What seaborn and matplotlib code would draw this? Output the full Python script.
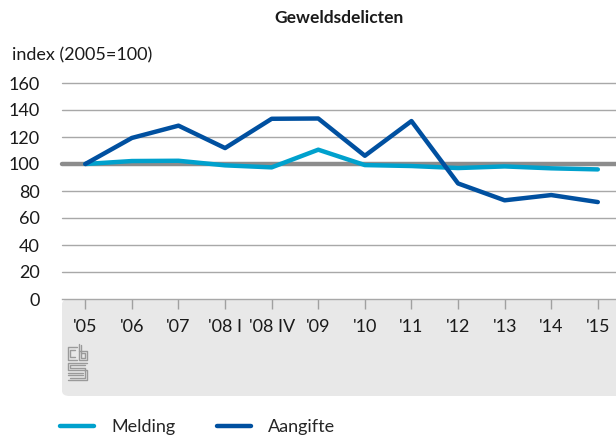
import matplotlib
matplotlib.use("Agg")
import matplotlib.pyplot as plt
import seaborn as sns
import pandas as pd
from matplotlib.patches import FancyBboxPatch
from matplotlib.lines import Line2D

periods = ["'05", "'06", "'07", "'08 I", "'08 IV", "'09", "'10", "'11", "'12", "'13", "'14", "'15"]
melding = [100, 102.2, 102.4, 99.0, 97.5, 110.6, 99.2, 98.5, 97.0, 98.2, 96.8, 96.0]
aangifte = [100, 119.3, 128.4, 111.8, 133.5, 133.7, 106.1, 131.8, 85.6, 73.1, 77.0, 71.8]
yticks = [0, 20, 40, 60, 80, 100, 120, 140, 160]

LIGHT = "#00a1cd"
DARK = "#0050a0"

sns.set_theme(style="white")
plt.rcParams['font.family'] = ['Lato', 'DejaVu Sans']

W, H = 616, 437
fig = plt.figure(figsize=(W / 100, H / 100), dpi=100)

# gray band behind x tick labels
band = FancyBboxPatch((62 / W, 1 - 396 / H), (W - 62 + 20) / W, (396 - 299) / H,
                      boxstyle="round,pad=0,rounding_size=0.012",
                      transform=fig.transFigure, facecolor="#e8e8e8",
                      edgecolor="none", zorder=0)
fig.patches.append(band)

ax = fig.add_axes([62 / W, 1 - 299 / H, (W - 62) / W, (299 - 83) / H])
ax.set_zorder(2)
ax.set_facecolor("white")

df = pd.DataFrame({
    "pos": list(range(len(periods))) * 2,
    "value": melding + aangifte,
    "serie": ["Melding"] * len(periods) + ["Aangifte"] * len(periods),
})

for y in yticks[1:]:
    ax.axhline(y, color="#a8a8a8", lw=1.0, zorder=1)
ax.axhline(100, color="#8c8c8c", lw=3.2, zorder=2)

sns.lineplot(data=df, x="pos", y="value", hue="serie",
             palette={"Melding": LIGHT, "Aangifte": DARK},
             linewidth=3.2, sort=False, legend=False, ax=ax, zorder=3)
for l in ax.lines:
    l.set_clip_on(False)

ax.set_xlim(-0.5, 11.39)
ax.set_ylim(0, 160)
ax.set_yticks(yticks)
ax.set_xticks(range(len(periods)))
ax.set_xticklabels(periods)
ax.set_xlabel("")
ax.set_ylabel("")
for s in ["top", "right", "left"]:
    ax.spines[s].set_visible(False)
ax.spines["bottom"].set_color("#a8a8a8")
ax.spines["bottom"].set_linewidth(1.0)
ax.tick_params(axis="x", bottom=True, direction="out", length=7.5, width=1, color="#a0a0a0",
               pad=7, labelsize=13, labelcolor="#1a1a1a")
ax.tick_params(axis="y", left=False, length=0, pad=16, labelsize=13, labelcolor="#1a1a1a")
for t in ax.get_yticklabels():
    t.set_horizontalalignment("right")

fig.text(339 / W, 1 - 18 / H, "Geweldsdelicten", ha="center", va="center",
         fontsize=12.5, fontweight="bold", color="#1a1a1a")
fig.text(12 / W, 1 - 55 / H, "index (2005=100)", ha="left", va="center",
         fontsize=13, color="#1a1a1a")

# CBS logo (decoration)
lc = "#9a9a9a"
def seg(xs, ys):
    fig.add_artist(Line2D([x / W for x in xs], [1 - y / H for y in ys],
                          color=lc, lw=1.0, transform=fig.transFigure, zorder=3))
seg([77, 68, 68, 77], [347, 347, 360, 360])
seg([75, 70, 70, 75], [350, 350, 357, 357])
seg([79, 79, 87, 87, 79], [344, 360, 360, 351, 351])
seg([81, 81, 85, 85, 81], [345, 358, 358, 353, 353])
seg([87, 68, 68, 87, 87, 68], [363, 363, 370, 370, 380, 380])
seg([85, 70, 70, 85, 85, 70], [365, 365, 368, 368, 378, 378])
seg([68, 83], [373, 373])
seg([68, 83], [375, 375])

handles = [Line2D([], [], color=LIGHT, lw=3.2), Line2D([], [], color=DARK, lw=3.2)]
fig.legend(handles, ["Melding", "Aangifte"], loc="center left",
           bbox_to_anchor=(56 / W, 1 - 427 / H), ncol=2, frameon=False,
           fontsize=13, handlelength=1.9, handletextpad=0.95, columnspacing=2.3,
           borderaxespad=0, borderpad=0.2)

fig.savefig("out.png", dpi=100)
